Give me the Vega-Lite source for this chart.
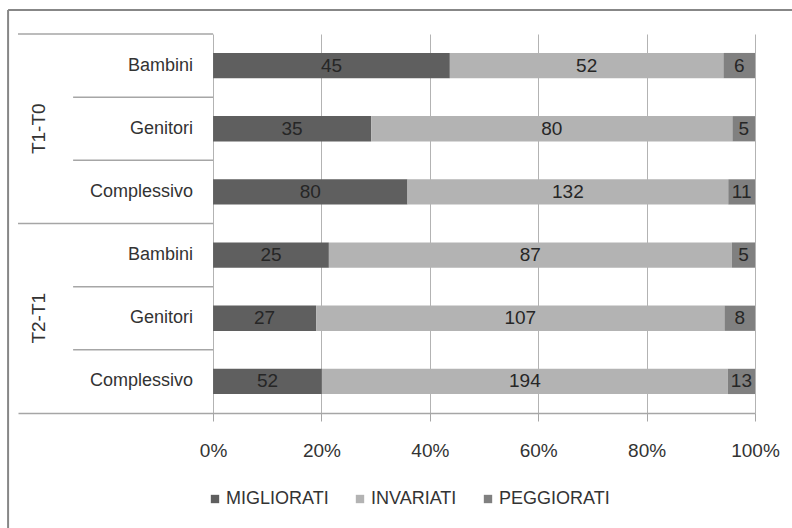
{
  "$schema": "https://vega.github.io/schema/vega-lite/v6.json",
  "width": 737,
  "height": 379,
  "autosize": {"type": "none"},
  "padding": {"left": 18, "top": 34, "right": 37, "bottom": 115},
  "background": "white",
  "config": {
    "view": {"stroke": null},
    "font": "Liberation Sans",
    "text": {"font": "Liberation Sans"},
    "axis": {"labelFont": "Liberation Sans"},
    "legend": {"labelFont": "Liberation Sans"}
  },
  "data": {
    "values": [
      {"voce": "T1-T0 Bambini", "periodo": "T1-T0", "gruppo": "Bambini", "esito": "MIGLIORATI", "ordine": 1, "n": 45},
      {"voce": "T1-T0 Bambini", "periodo": "T1-T0", "gruppo": "Bambini", "esito": "INVARIATI", "ordine": 2, "n": 52},
      {"voce": "T1-T0 Bambini", "periodo": "T1-T0", "gruppo": "Bambini", "esito": "PEGGIORATI", "ordine": 3, "n": 6},
      {"voce": "T1-T0 Genitori", "periodo": "T1-T0", "gruppo": "Genitori", "esito": "MIGLIORATI", "ordine": 1, "n": 35},
      {"voce": "T1-T0 Genitori", "periodo": "T1-T0", "gruppo": "Genitori", "esito": "INVARIATI", "ordine": 2, "n": 80},
      {"voce": "T1-T0 Genitori", "periodo": "T1-T0", "gruppo": "Genitori", "esito": "PEGGIORATI", "ordine": 3, "n": 5},
      {"voce": "T1-T0 Complessivo", "periodo": "T1-T0", "gruppo": "Complessivo", "esito": "MIGLIORATI", "ordine": 1, "n": 80},
      {"voce": "T1-T0 Complessivo", "periodo": "T1-T0", "gruppo": "Complessivo", "esito": "INVARIATI", "ordine": 2, "n": 132},
      {"voce": "T1-T0 Complessivo", "periodo": "T1-T0", "gruppo": "Complessivo", "esito": "PEGGIORATI", "ordine": 3, "n": 11},
      {"voce": "T2-T1 Bambini", "periodo": "T2-T1", "gruppo": "Bambini", "esito": "MIGLIORATI", "ordine": 1, "n": 25},
      {"voce": "T2-T1 Bambini", "periodo": "T2-T1", "gruppo": "Bambini", "esito": "INVARIATI", "ordine": 2, "n": 87},
      {"voce": "T2-T1 Bambini", "periodo": "T2-T1", "gruppo": "Bambini", "esito": "PEGGIORATI", "ordine": 3, "n": 5},
      {"voce": "T2-T1 Genitori", "periodo": "T2-T1", "gruppo": "Genitori", "esito": "MIGLIORATI", "ordine": 1, "n": 27},
      {"voce": "T2-T1 Genitori", "periodo": "T2-T1", "gruppo": "Genitori", "esito": "INVARIATI", "ordine": 2, "n": 107},
      {"voce": "T2-T1 Genitori", "periodo": "T2-T1", "gruppo": "Genitori", "esito": "PEGGIORATI", "ordine": 3, "n": 8},
      {"voce": "T2-T1 Complessivo", "periodo": "T2-T1", "gruppo": "Complessivo", "esito": "MIGLIORATI", "ordine": 1, "n": 52},
      {"voce": "T2-T1 Complessivo", "periodo": "T2-T1", "gruppo": "Complessivo", "esito": "INVARIATI", "ordine": 2, "n": 194},
      {"voce": "T2-T1 Complessivo", "periodo": "T2-T1", "gruppo": "Complessivo", "esito": "PEGGIORATI", "ordine": 3, "n": 13}
    ]
  },
  "layer": [
    {
      "encoding": {
        "y": {
          "field": "voce", "type": "nominal", "sort": null, "axis": null,
          "scale": {
            "domain": ["T1-T0 Bambini", "T1-T0 Genitori", "T1-T0 Complessivo", "T2-T1 Bambini", "T2-T1 Genitori", "T2-T1 Complessivo"],
            "paddingInner": 0, "paddingOuter": 0
          }
        }
      },
      "layer": [
        {
          "mark": {"type": "bar", "height": {"band": 0.4}},
          "encoding": {
            "x": {
              "field": "n", "type": "quantitative", "stack": "normalize",
              "scale": {"domain": [-0.36, 1], "nice": false, "zero": false},
              "axis": {
                "values": [0, 0.2, 0.4, 0.6, 0.8, 1], "format": ".0%", "title": null,
                "grid": true, "gridColor": "#b3b3b3", "gridWidth": 1,
                "domainColor": "#a6a6a6", "domainWidth": 1.5,
                "tickColor": "#a6a6a6", "tickSize": 8, "tickWidth": 1,
                "labelFontSize": 19, "labelColor": "#333333", "labelPadding": 20,
                "labelFlush": false, "labelOverlap": false
              }
            },
            "color": {
              "field": "esito", "type": "nominal",
              "scale": {"domain": ["MIGLIORATI", "INVARIATI", "PEGGIORATI"], "range": ["#5f5f5f", "#b3b3b3", "#808080"]},
              "legend": {
                "title": null, "orient": "none", "legendX": 188, "legendY": 456,
                "direction": "horizontal", "symbolType": "square", "symbolSize": 70,
                "symbolStrokeWidth": 0, "labelFontSize": 18, "labelColor": "#333333",
                "labelOffset": 2, "columnPadding": 22
              }
            },
            "order": {"field": "ordine", "type": "quantitative"}
          }
        },
        {
          "mark": {"type": "text", "fontSize": 19, "color": "#262626", "baseline": "middle", "align": "center"},
          "encoding": {
            "x": {"field": "n", "type": "quantitative", "stack": "normalize", "bandPosition": 0.5},
            "text": {"field": "n", "type": "quantitative"},
            "detail": {"field": "esito", "type": "nominal"},
            "order": {"field": "ordine", "type": "quantitative"}
          }
        },
        {
          "transform": [{"filter": "datum.esito == 'MIGLIORATI'"}],
          "mark": {"type": "text", "fontSize": 18, "color": "#333333", "align": "right", "baseline": "middle"},
          "encoding": {
            "x": {"datum": -0.0369, "type": "quantitative"},
            "text": {"field": "gruppo", "type": "nominal"}
          }
        },
        {
          "transform": [{"filter": "datum.esito == 'MIGLIORATI' && datum.gruppo == 'Genitori'"}],
          "mark": {"type": "text", "fontSize": 19, "color": "#333333", "angle": 270, "align": "center", "baseline": "middle"},
          "encoding": {
            "x": {"datum": -0.321, "type": "quantitative"},
            "text": {"field": "periodo", "type": "nominal"}
          }
        },
        {
          "transform": [{"filter": "datum.esito == 'MIGLIORATI' && datum.gruppo == 'Bambini'"}],
          "mark": {"type": "rule", "color": "#a6a6a6", "strokeWidth": 1.5},
          "encoding": {
            "y": {
              "field": "voce", "type": "nominal", "sort": null, "axis": null, "bandPosition": 0,
              "scale": {
                "domain": ["T1-T0 Bambini", "T1-T0 Genitori", "T1-T0 Complessivo", "T2-T1 Bambini", "T2-T1 Genitori", "T2-T1 Complessivo"],
                "paddingInner": 0, "paddingOuter": 0
              }
            },
            "x": {"datum": -0.36, "type": "quantitative"},
            "x2": {"datum": 0}
          }
        },
        {
          "transform": [{"filter": "datum.esito == 'MIGLIORATI' && datum.gruppo != 'Bambini'"}],
          "mark": {"type": "rule", "color": "#a6a6a6", "strokeWidth": 1.5},
          "encoding": {
            "y": {
              "field": "voce", "type": "nominal", "sort": null, "axis": null, "bandPosition": 0,
              "scale": {
                "domain": ["T1-T0 Bambini", "T1-T0 Genitori", "T1-T0 Complessivo", "T2-T1 Bambini", "T2-T1 Genitori", "T2-T1 Complessivo"],
                "paddingInner": 0, "paddingOuter": 0
              }
            },
            "x": {"datum": -0.2583, "type": "quantitative"},
            "x2": {"datum": 0}
          }
        }
      ]
    },
    {
      "data": {"values": [{"bordo": "cornice"}]},
      "layer": [
        {
          "mark": {"type": "rule", "color": "#878787", "strokeWidth": 2},
          "encoding": {
            "x": {"datum": -0.3783, "type": "quantitative", "scale": {"domain": [-0.36, 1], "nice": false, "zero": false}},
            "x2": {"datum": 1.0685},
            "y": {"datum": 1.0633, "type": "quantitative", "axis": null, "scale": {"domain": [0, 1], "nice": false, "zero": false}}
          }
        },
        {
          "mark": {"type": "rule", "color": "#878787", "strokeWidth": 2},
          "encoding": {
            "x": {"datum": -0.3783, "type": "quantitative", "scale": {"domain": [-0.36, 1], "nice": false, "zero": false}},
            "y": {"datum": 1.0633, "type": "quantitative", "axis": null, "scale": {"domain": [0, 1], "nice": false, "zero": false}},
            "y2": {"datum": -0.3034}
          }
        }
      ]
    }
  ],
  "resolve": {"scale": {"y": "independent"}}
}
